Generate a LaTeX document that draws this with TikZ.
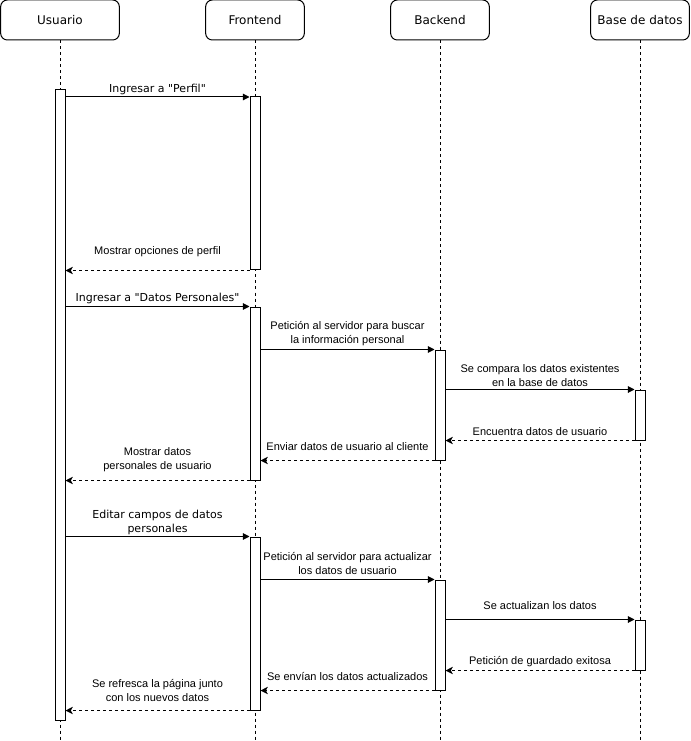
\documentclass[tikz,border=0pt]{standalone}
\usepackage{fontspec}
\setmainfont{Liberation Sans}
\newfontfamily\verdana{DejaVu Sans}
\usetikzlibrary{arrows.meta}
\usetikzlibrary{positioning}

\begin{document}
\begin{tikzpicture}[x=0.75pt,y=-0.75pt,line width=0.75pt,
        actor/.style={draw,rounded corners=5pt,minimum height=30pt,inner sep=0pt,font=\verdana\fontsize{9}{11}\selectfont},
        bar/.style={draw,fill=white,minimum width=7.5pt,inner sep=0pt},
        lifeline/.style={dash pattern=on 2.25pt off 2.25pt},
        msg/.style={-{Triangle[length=5pt,width=5pt]}},
        reply/.style={-{Stealth[length=5.5pt,width=5.5pt,inset=1.5pt]},dash pattern=on 2.25pt off 2.25pt},
        lbl/.style={font=\fontsize{8.25}{10.5}\selectfont,align=center,inner sep=0pt},
        vlbl/.style={lbl,font=\verdana\fontsize{8.25}{10.5}\selectfont}]

    \useasboundingbox (0,0) rectangle (691,741);

    \node[actor,minimum width=89pt] (usuario) at (60,20) {Usuario};
    \node[actor,minimum width=74pt] (frontend) at (255,20) {Frontend};
    \node[actor,minimum width=74pt] (backend) at (440,20) {Backend};
    \node[actor,minimum width=74pt] (bd) at (640,20) {Base de datos};

    \foreach \a in {usuario,frontend,backend,bd}
        \draw[lifeline] (\a.south) -- (\a.south |- 0,741);

    \node[bar,minimum height=472.5pt] (ub) at (60,405) {};
    \node[bar,minimum height=129.75pt] (fb1) at (255,183.5) {};
    \node[bar,minimum height=129.75pt] (fb2) at (255,393.5) {};
    \node[bar,minimum height=129.75pt] (fb3) at (255,623.5) {};
    \node[bar,minimum height=82.5pt] (bb1) at (440,405) {};
    \node[bar,minimum height=82.5pt] (bb2) at (440,635) {};
    \node[bar,minimum height=37.5pt] (db1) at (640,415) {};
    \node[bar,minimum height=37.5pt] (db2) at (640,645) {};

    \draw[msg] (ub.east |- 0,97) -- node[vlbl,yshift=6pt] {Ingresar a "Perfil"} (fb1.west |- 0,97);
    \draw[reply] (fb1.south west) -- node[lbl,yshift=14.25pt] {Mostrar opciones de perfil} (ub.east |- fb1.south);

    \draw[msg] (ub.east |- fb2.north) -- node[vlbl,yshift=6pt] {Ingresar a "Datos Personales"} (fb2.north west);
    \draw[msg] (fb2.east |- bb1.north) -- node[lbl,yshift=11.6pt] {Petición al servidor para buscar\\la información personal} (bb1.north west);
    \draw[msg] (bb1.east |- db1.north) -- node[lbl,yshift=10.5pt] {Se compara los datos existentes\\en la base de datos} (db1.north west);
    \draw[reply] (db1.south west) -- node[lbl,yshift=6.75pt] {Encuentra datos de usuario} (bb1.east |- db1.south);
    \draw[reply] (bb1.south west) -- node[lbl,yshift=10.5pt] {Enviar datos de usuario al cliente} (fb2.east |- bb1.south);
    \draw[reply] (fb2.south west) -- node[lbl,yshift=15.75pt] {Mostrar datos\\personales de usuario} (ub.east |- fb2.south);

    \draw[msg] (ub.east |- fb3.north) -- node[vlbl,yshift=10.5pt] {Editar campos de datos\\personales} (fb3.north west);
    \draw[msg] (fb3.east |- bb2.north) -- node[lbl,yshift=12pt] {Petición al servidor para actualizar\\los datos de usuario} (bb2.north west);
    \draw[msg] (bb2.east |- db2.north) -- node[lbl,yshift=10.5pt] {Se actualizan los datos} (db2.north west);
    \draw[reply] (db2.south west) -- node[lbl,yshift=6.75pt] {Petición de guardado exitosa} (bb2.east |- db2.south);
    \draw[reply] (bb2.south west) -- node[lbl,yshift=10.5pt] {Se envían los datos actualizados} (fb3.east |- bb2.south);
    \draw[reply] (fb3.south west) -- node[lbl,yshift=15pt] {Se refresca la página junto\\con los nuevos datos} (ub.east |- fb3.south);
\end{tikzpicture}
\end{document}
